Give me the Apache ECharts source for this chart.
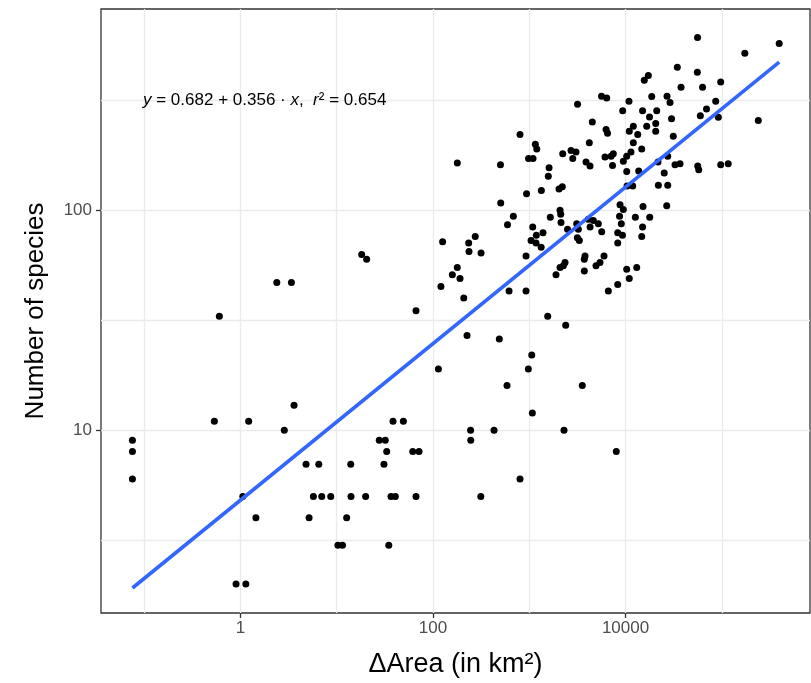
<!DOCTYPE html>
<html>
<head>
<meta charset="utf-8">
<script src="https://cdn.jsdelivr.net/npm/echarts@6/dist/echarts.min.js"></script>
<style>
html,body{margin:0;padding:0;background:#fff;}
#chart{width:811px;height:683px;}
</style>
</head>
<body>
<div id="chart"></div>
<script>
// ---- data ----
const area = [
  0.0757, 0.0757, 0.0757, 0.537, 0.605, 1.22, 2.86, 3.61, 2.39, 3.39,
  4.81, 6.52, 14.0, 31.0, 27.7, 32.0, 33.1, 38.5, 49.3, 61.7,
  71.7, 1.06, 5.73, 7.00, 8.68, 14.1, 20.0, 36.7, 40.7, 66.7,
  1.45, 5.17, 12.7, 10.3, 11.5, 34.8, 0.902, 1.14, 18.2, 20.5,
  66.7, 114, 121, 126, 159, 179, 191, 209, 179, 235,
  237, 275, 316, 503, 506, 595, 617, 684, 802, 938,
  926, 926, 984, 1095, 1157, 1197, 1087, 1045, 1185, 1177,
  1330, 1390, 1337, 1607, 1578, 1656, 1556, 1897, 2040, 2206,
  2089, 2123, 2139, 2228, 2354, 2260, 2089, 2393, 2500, 2717,
  3062, 2831, 3175, 3112, 3236, 3162, 3313, 3557, 3733, 3796,
  3733, 3890, 4279, 4207, 4519, 4108, 4630, 5220, 4285, 4937,
  5432, 5661, 5636, 6380, 5980, 6280, 6500, 6120, 7080, 7470,
  7330, 6630, 8020, 8300, 9300, 8300, 8300, 8670, 8770, 9490,
  9040, 9350, 9490, 10290, 10290, 10370, 10290, 10860, 10940, 10940,
  11880, 12050, 11400, 12050, 12650, 13070, 13390, 13710, 14730, 15030,
  15030, 14730, 15200, 15670, 17260, 16600, 17750, 17830, 18710, 20590,
  20590, 21090, 21930, 21750, 25220, 27430, 26790, 26980, 28980, 27430,
  30060, 31350, 32650, 36810, 34510, 37700, 55980, 55700, 63100, 56230,
  57600, 59840, 69400, 86440, 92000, 97400, 97400, 116500, 173400, 239300,
  394600, 246, 247, 226, 431, 489, 314, 588, 802, 979,
  1062, 1077, 2297
];
const species = [
  9, 8, 6, 11, 33, 11, 10, 13, 47, 47,
  7, 7, 7, 7, 9, 9, 8, 11, 11, 8,
  8, 5, 5, 5, 5, 5, 5, 5, 5, 5,
  4, 4, 4, 3, 3, 3, 2, 2, 63, 60,
  35, 19, 45, 72, 51, 55, 49, 40, 164, 71,
  65, 76, 64, 161, 108, 86, 43, 94, 221, 119,
  62, 43, 172, 172, 200, 190, 84, 73, 77, 71,
  68, 79, 123, 156, 143, 93, 33, 51, 125, 128,
  100, 96, 88, 181, 58, 56, 55, 30, 82, 187,
  184, 172, 304, 87, 82, 75, 73, 16, 53, 62,
  60, 166, 159, 203, 252, 91, 90, 87, 84, 56,
  58, 80, 330, 324, 62, 233, 224, 175, 176, 181,
  160, 43, 8, 79, 77, 71, 46, 94, 106, 101,
  87, 284, 167, 176, 150, 129, 54, 313, 229, 49,
  129, 241, 184, 203, 93, 55, 221, 151, 190, 284,
  84, 76, 104, 390, 410, 241, 266, 93, 329, 248,
  229, 284, 130, 166, 148, 130, 105, 330, 309, 176,
  261, 217, 161, 163, 447, 363, 611, 424, 363, 159,
  153, 269, 289, 313, 265, 383, 161, 163, 518, 256,
  573, 10, 9, 27, 10, 26, 5, 16, 6, 19,
  22, 12, 10
];
const X_TICKS = [1, 100, 10000];
const X_GRID = [0.1, 1, 10, 100, 1000, 10000, 100000];
const Y_TICKS = [10, 100];
const Y_GRID = [3.1623, 10, 31.623, 100, 316.23];
const X_LIMITS = [0.0357, 824000];
const Y_LIMITS = [1.477, 823];
const FIT_INTERCEPT = 0.682;
const FIT_SLOPE = 0.356;
const FIT_R2 = 0.654;
const X_TITLE = 'ΔArea (in km²)';
const Y_TITLE = 'Number of species';

// ---- build ----
const FONT = "'Liberation Sans', Arial, Helvetica, sans-serif";
const lg = v => Math.log10(v);
const points = area.map((a, i) => [lg(a), lg(species[i])]);
const xs = area.map(lg);
const xLo = Math.min(...xs), xHi = Math.max(...xs);
const fitLine = [xLo, xHi].map(x => [x, FIT_INTERCEPT + FIT_SLOPE * x]);
const fmt = v => String(Math.round(Math.pow(10, v)));

const gridAxisBase = {
  gridIndex: 0, type: 'value',
  axisLine: {show: false, onZero: false},
  axisLabel: {show: false},
  splitLine: {show: true, lineStyle: {color: '#ebebeb', width: 1.3}}
};

const option = {
  animation: false,
  backgroundColor: '#ffffff',
  textStyle: {fontFamily: FONT},
  grid: {left: 101, right: 1, top: 9, bottom: 68, show: true,
         borderColor: '#333333', borderWidth: 1.3, backgroundColor: 'transparent'},
  xAxis: [
    Object.assign({}, gridAxisBase, {
      position: 'bottom', min: lg(X_LIMITS[0]), max: lg(X_LIMITS[1]),
      axisTick: {show: false, customValues: X_GRID.map(lg)}
    }),
    {
      gridIndex: 0, type: 'value', position: 'bottom', offset: 0,
      min: lg(X_LIMITS[0]), max: lg(X_LIMITS[1]),
      axisLine: {show: false, onZero: false},
      axisTick: {show: true, inside: false, length: 5, customValues: X_TICKS.map(lg),
                 lineStyle: {color: '#333333', width: 1.3}},
      axisLabel: {customValues: X_TICKS.map(lg), formatter: fmt,
                  color: '#4d4d4d', fontSize: 17, margin: 7, fontFamily: FONT},
      splitLine: {show: false},
      name: X_TITLE, nameLocation: 'middle', nameGap: 38,
      nameTextStyle: {fontSize: 27, color: '#000', fontFamily: FONT}
    }
  ],
  yAxis: [
    Object.assign({}, gridAxisBase, {
      position: 'left', min: lg(Y_LIMITS[0]), max: lg(Y_LIMITS[1]),
      axisTick: {show: false, customValues: Y_GRID.map(lg)}
    }),
    {
      gridIndex: 0, type: 'value', position: 'left', offset: 0,
      min: lg(Y_LIMITS[0]), max: lg(Y_LIMITS[1]),
      axisLine: {show: false, onZero: false},
      axisTick: {show: true, inside: false, length: 5, customValues: Y_TICKS.map(lg),
                 lineStyle: {color: '#333333', width: 1.3}},
      axisLabel: {customValues: Y_TICKS.map(lg), formatter: fmt,
                  color: '#4d4d4d', fontSize: 17, margin: 9, fontFamily: FONT},
      splitLine: {show: false},
      name: Y_TITLE, nameLocation: 'middle', nameGap: 52,
      nameTextStyle: {fontSize: 26, color: '#000', fontFamily: FONT}
    }
  ],
  series: [
    {
      type: 'scatter', xAxisIndex: 0, yAxisIndex: 0,
      data: points, symbol: 'circle', symbolSize: 7,
      itemStyle: {color: '#000000', opacity: 1}, z: 2
    },
    {
      type: 'line', xAxisIndex: 0, yAxisIndex: 0,
      data: fitLine, showSymbol: false, symbol: 'none',
      lineStyle: {color: '#3366FF', width: 3.6}, z: 3
    }
  ],
  graphic: [{
    type: 'text', x: 143, y: 100, z: 10,
    style: {
      text: '{i|y} = ' + FIT_INTERCEPT + ' + ' + FIT_SLOPE + ' · {i|x},  {i|r}² = ' + FIT_R2,
      fontSize: 17, fontFamily: FONT, fill: '#000',
      verticalAlign: 'middle', align: 'left',
      rich: {i: {fontStyle: 'italic', fontSize: 17, fontFamily: FONT, fill: '#000'}}
    }
  }]
};

const chart = echarts.init(document.getElementById('chart'), null, {renderer: 'canvas'});
chart.setOption(option);
</script>
</body>
</html>
